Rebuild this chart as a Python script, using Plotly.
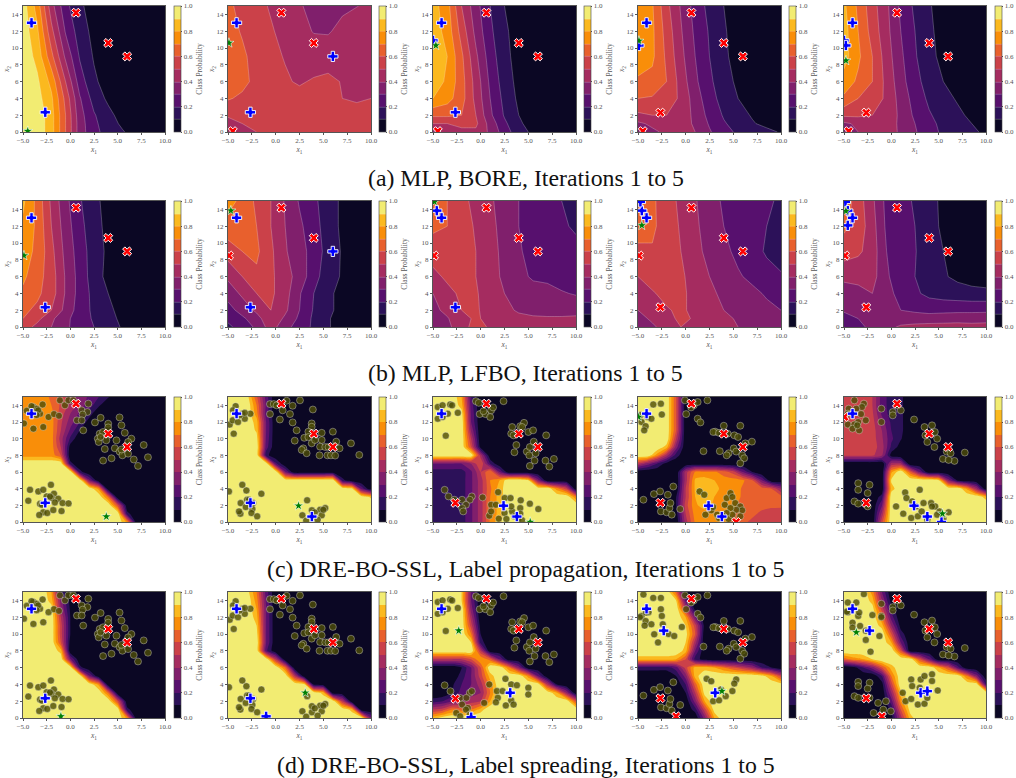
import numpy as np
import plotly.graph_objects as go

# ---------- grids ----------
X_MLP = [-5, -3.5, -2, -0.5, 1, 2.5, 4, 5.5, 7, 8.5, 10]
Y_MLP = [15, 12, 9, 6, 4, 2, 1, 0]
X_SSL = list(range(-5, 11))
Y_SSL = list(range(15, -1, -1))
TICK_X = [-5, -2.5, 0, 2.5, 5, 7.5, 10]
TICK_Y = [0, 2, 4, 6, 8, 10, 12, 14]

# ---------- class probability (percent), rows from y=15 down to y=0 ----------
A1_Z = [[95,76,44,23,12,5,2,2,2,2,2],[96,82,53,29,15,7,3,2,2,2,2],[97,87,63,38,19,9,4,2,2,2,2],[98,92,77,50,25,12,5,2,2,2,2],
        [99,94,82,57,31,16,8,3,2,2,2],[99,97,84,60,34,21,13,6,2,2,2],[99,97,84,60,35,22,15,8,3,2,2],[99,97,84,60,35,23,16,11,5,2,2]]
A2_Z = [[62,57,53,49,45,41,37,36,38,39.7,42],[64,59,55,51,47,43,39.5,39,43,46,48],[65,62,56,52,49.5,47,45,46,48,49.9,47],[66,63,57,53,51,49,51,52,49.5,47,46],
        [61,58,56,55,54,53,53,52,50,49,50],[51,54,55,55,55,55,55,54,53,53,53],[47,50,53,55,55,55,55,54,53,53,53],[43,47,50,54,55,55,55,54,53,53,53]]
A3_Z = [[84,74,50,34,20,10,4,2,2,2,2],[86,76,56,37,22,12,5,2,2,2,2],[88,80,62,42,25,13,6,2,2,2,2],[86,78,64,46,28,15,7,2,2,2,2],
        [80,74,64,47,30,17,8,2,2,2,2],[62,62,60,50,32,19,10,3,2,2,2],[50,50,54,52,36,22,12,5,2,2,2],[38,42,46,48,38,25,14,8,2,2,2]]
A4_Z = [[78,71,53,39,26,17,10,5,2,2,2],[78,72,56,41,28,19,11,6,2,2,2],[77,72,58,43,30,20,12,6,2,2,2],[68,67,60,46,32,22,14,8,3,2,2],
        [60,59,56,48,35,24,16,10,6,3,2],[48,50,50,47,37,27,19,14,9,5,3],[38,42,46,46,38,29,21,16,11,7,4],[32,38,42,44,40,31,24,18,14,13,9]]
A5_Z = [[82,68,54,42,28,18,11,5,2,2,2],[84,70,56,43,30,20,12,6,2,2,2],[84,72,60,45,32,21,13,7,2,2,2],[76,68,60,47,34,23,16,10,5,2,2],
        [68,60,56,48,36,26,18,13,9,6,3],[52,52,50,46,38,28,21,16,12,8,6],[38,42,46,45,38,30,23,17,13,10,7],[34,40,42,43,39,31,24,18,14,11,9]]
B1_Z = [[82,67,48,33,21,13,6,2,2,2,2],[78,68,50,35,23,14,7,2,2,2,2],[74,68,53,37,25,15,8,2,2,2,2],[72,64,55,39,26,15,7,2,2,2,2],
        [68,62,55,39,26,17,10,5,2,2,2],[62,58,50,37,25,18,12,7,2,2,2],[60,53,42,33,24,19,13,8,3,2,2],[55,47,40,32,25,20,15,9,4,2,2]]
B2_Z = [[74,67,58,50,39,29,22,15,8,3,2],[66,67,60,50,40,32,24,15,8,3,2],[55,60,62,52,41,34,26,16,9,3,2],[42,50,58,52,44,36,24,14,9,3,2],
        [34,42,50,52,44,31,20,12,7,2,2],[26,34,42,50,42,30,19,12,7,2,2],[22,28,36,48,38,28,18,11,5,2,2],[18,24,32,45,33,26,18,11,5,2,2]]
B3_Z = [[66,60,52,48,42,34,30,27,24,20,18],[62,60,54,49,43,36,30,26,24,21,19],[55,58,56,50,44,37,31,27,24,22,22],[47,52,55,50,44,38,32,29,28,25,24],
        [40,47,52,51,45,40,34,33,33,31,29],[37,43,50,51,47,42,39,38,37,37,38],[34,39,48,51,48,44,42,41,41,41,41],[32,37,47,53,49,45,43,42,42,42,42]]
B4_Z = [[70,62,54,48,41,33,29,25,22,21,19],[64,62,55,49,42,35,30,26,23,20,18],[58,59,56,50,43,37,32,28,23,19,16],[50,54,55,52,45,40,35,31,28,23,21],
        [46,49,53,52,47,42,38,35,32,29,26],[40,44,49,52,47,43,40,37,34,32,30],[36,42,47,52,49,45,42,39,36,34,33],[30,38,45,50,50,46,43,40,37,35,34]]
B5_Z = [[66,55,42,27,23,19,13,8,3,2,2],[62,56,44,28,24,20,14,8,3,2,2],[55,52,45,30,25,20.5,15,10,6,3,2],[42,42,44,31,26,20,15,11,8,6,4],
        [36,38,40,33,27,22,17,15,14,13,13],[31,35,37,33,30,29,28,28,28,28,28],[27,30,34,35,33,33,33,34,35,35,36],[22,28,32,36,42,44,45,45,45,44,44]]

C1_Z = [[75,75,75,68,55,45,36,28,20,11],[75,75,75,70,58,47,35,25,12],[75,75,75,74,55,40,28,15],[75,75,75,75,52,35,20,5],
        [75,75,75,75,50,28,10],[75,75,75,75,45,18],[75,75,75,75,50,5],[76,76,76,76,60],
        [100]*5+[30],[100]*6+[30],[100]*7+[40],[100]*8+[65,10],[100]*9+[60],[100]*10+[55],[100]*10+[90,30],[100]*11+[65]]
C2_Z = [[100,100,95,62,25],[100,100,100,70,28],[100,100,100,75,25],[100,100,100,85,30],[100,100,100,88,30],[100,100,100,95,28],[100,100,100,100,25],[100,100,100,100,30],
        [100]*5+[35],[100]*6+[40],[100]*7+[80]*5+[30],[100]*13+[75,37],[100]*15+[71],[100]*16,[100]*16,[100]*16]
C3_Z = [[100,100,100,80,20],[100,100,100,85,25],[100,100,100,95,28],[100,100,100,100,30],[100,100,100,100,38],[100,100,100,100,50],[100,100,100,100,60,5],[100,100,100,100,100,45],
        [30,30,30,30,40,60,20],[15,15,15,15,28,50,70,30],[15,15,15,15,28,45,70,80,100,100,90,35],[15,15,15,15,28,45,68,85,100,100,100,100,100,75,55],
        [15,15,15,15,28,45,70,85,100,100,100,100,100,100,100,72],[15,15,15,15,28,45,70,85]+[100]*8,[15,15,15,15,28,45,70,85]+[100]*8,[15,15,15,15,28,45,72,88]+[100]*8]
C4_Z = [[100,100,100,100,60],[100,100,100,100,60],[100,100,100,100,60],[100,100,100,100,60],[100,100,100,100,60],[100,100,100,100,50],[100,100,100,85,35],[100,100,75,45,15],
        [50,35,20,5],[0,0,0,0,0,45,72,72,72,65,55,30,10],[0,0,0,0,0,45,82,85,80,75,75,72,60,30],[0,0,0,0,0,50,82,85,82,78,78,68,66,65,60,40],
        [0,0,0,0,10,50,80,85,80,76,76,68,65,64,64,64],[0,0,0,0,10,55,78,85,78,74,72,66,64,63,62,62],[0,0,0,0,5,50,75,75,75,72,70,65,62,58,56,55],[0,0,0,0,0,45,72,72,72,72,68,62,58,55,55,55]]
C5_Z = [[55,55,55,50,25,15,13],[55,55,55,50,25,15,13],[55,55,55,52,28,15,13],[55,55,55,54,35,18,13],[55,55,55,55,40,20,13],[55,55,55,55,42,22,11],[55,55,55,55,45,18,5],[52,52,52,52,42,5],
        [0,0,0,0,0,45,45],[0,0,0,0,10,70,100,60,35],[0,0,0,0,10,80,100,100,100,90,80,40,20],[0,0,0,0,8,75]+[100]*7+[70,45],
        [0,0,0,0,25,85]+[100]*9+[75],[0,0,0,0,35,95]+[100]*10,[0,0,0,5,45]+[100]*11,[0,0,0,10,55]+[100]*11]

D1_Z = [[100,100,100,80,18],[100,100,100,85,35,5],[100,100,100,95,40,8],[100,100,100,100,50,10],[100,100,100,100,55,10],[100,100,100,100,55,10],[100,100,100,100,60,5],[100,100,100,100,85],
        [100]*5+[40],[100]*6+[30],[100]*7+[40],[100]*8+[65,10],[100]*9+[60],[100]*10+[55],[100]*10+[90,30],[100]*11+[65]]
D2_Z = [[100,100,95,70,25],[100,100,100,75,28],[100,100,100,80,30],[100,100,100,85,30],[100,100,100,90,30],[100,100,100,95,30],[100,100,100,100,30],[100,100,100,100,35],
        [100]*5+[50],[100]*6+[60],[100]*7+[50],[100]*8+[75,25],[100]*10+[70,15],[100]*12+[50],[100]*13+[70,15],[100]*14+[90,40]]
D3_Z = [[100,100,100,90,30],[100,100,100,90,30],[100,100,100,100,35],[100,100,100,100,45],[100,100,100,100,55,5],[100,100,100,100,70,10],[100,100,100,100,90,15],[100,100,100,100,100,50],
        [50,50,50,50,60,80,65,30],[0,0,0,10,30,60,100,100,70,35],[0,0,0,15,30,55,85]+[100]*3+[75,30],[0,0,8,20,30,45,75]+[100]*5+[50,10],
        [0,0,10,25,35,40,70]+[100]*6+[80,40],[15,20,30,35,45,50,80]+[100]*8+[60],[50,55,70,65,70,85]+[100]*10,[85,95]+[100]*14]
D4_Z = [[100,100,100,100,65,5],[100,100,100,100,90,25],[100,100,100,100,100,50,5],[100,100,100,100,100,80,30],[100,100,100,100,100,90,55,5],[100,100,100,100,100,95,60],[100,100,100,100,100,90,45],[100,100,100,100,100,85,30],
        [85,85,85,85,80,60,15,5],[15,15,15,15,25,55,85,85,80,70,60,50,40,20,10],[0,0,0,0,10,35,85]+[100]*6+[95,80,55],[0,0,0,0,0,20,65]+[100]*8+[95],
        [0,0,0,0,0,10,50,95]+[100]*8,[0,0,0,0,0,0,35,80]+[100]*8,[0,0,0,0,0,0,15,55,95]+[100]*7,[0,0,0,0,0,0,0,35,80]+[100]*7]
D5_Z = [[100,100,100,75,30],[100,100,100,85,40,5],[100,100,100,95,55,15],[100,100,100,100,70,25],[100,100,100,100,85,40,5],[100,100,100,100,100,60,15],[100,100,100,100,100,80,30],[100,100,100,100,100,100,60],
        [65,75,80,90,100,100,100,100,60,30],[0,5,20,35,60,85,100,100,100,100,80,60,25],[0,0,0,0,20,70]+[100]*7+[70,35],[0,0,0,0,5,55]+[100]*9+[20],
        [0,0,0,0,0,40,85]+[100]*9,[0,0,0,0,0,25,75]+[100]*9,[0,0,0,0,0,12,60,95]+[100]*8,[0,0,0,0,0,5,45,85]+[100]*8]

# ---------- evaluated points ----------
X_BASE = [(0.6, 14.2), (4, 10.6), (6, 9)]
A1_PLUS = [(-4.1,13),(-2.65,2.35)]; A1_X = X_BASE; A1_STAR = (-4.5,0.1)
A2_PLUS = [(-4.1,13),(-2.65,2.35),(6,9)]; A2_X = [(0.6,14.2),(4,10.6),(-4.5,0.1)]; A2_STAR = (-4.9,10.6)
A3_PLUS = [(-4.1,13),(-2.65,2.35),(-5,10.9)]; A3_X = X_BASE+[(-4.5,0.1)]; A3_STAR = (-4.7,10.3)
A4_PLUS = [(-4.1,13),(-4.9,10.3)]; A4_X = X_BASE+[(-2.65,2.3),(-4.5,0.1)]; A4_STAR = (-4.9,10.85)
A5_PLUS = [(-4.1,13),(-5,10.9),(-4.8,10.3)]; A5_X = A4_X; A5_STAR = (-4.8,8.5)
B1_PLUS = [(-4.1,13),(-2.65,2.35)]; B1_X = X_BASE; B1_STAR = (-4.9,8.5)
B2_PLUS = [(-4.1,13),(-2.65,2.35),(6,9)]; B2_X = [(0.6,14.2),(4,10.6),(-4.9,8.5)]; B2_STAR = (-4.7,13.85)
B3_PLUS = [(-4.1,13),(-2.65,2.35),(-4.6,13.85)]; B3_X = X_BASE+[(-4.9,8.5)]; B3_STAR = (-4.85,14.9)
B4_PLUS = [(-4.1,13),(-4.6,13.85),(-4.75,14.9)]; B4_X = X_BASE+[(-2.65,2.35),(-4.9,8.5)]; B4_STAR = (-4.6,12.1)
B5_PLUS = [(-4.1,13),(-4.6,12.1),(-4.85,14.9),(-4.6,13.85)]; B5_X = B4_X; B5_STAR = (-4.8,13.8)
C1_PLUS = [(-4.1,13),(-2.65,2.3)]; C1_X = X_BASE; C1_STAR = (3.8,0.65)
C2_PLUS = [(-4.1,13),(-2.65,2.3),(3.8,0.65)]; C2_X = X_BASE; C2_STAR = (2.4,1.95)
C3_PLUS = [(-4.1,13),(2.4,1.95),(3.8,0.65)]; C3_X = X_BASE+[(-2.65,2.3)]; C3_STAR = (5.2,0)
C4_PLUS = [(-4.1,13),(2.4,1.95),(3.8,0.65)]; C4_X = X_BASE+[(-2.65,2.3),(5.3,0)]; C4_STAR = (-4.95,12.6)
C5_PLUS = [(-4.1,13),(2.4,1.95),(3.8,0.65),(5.3,0)]; C5_X = X_BASE+[(-2.65,2.3),(-4.95,12.6)]; C5_STAR = (5.4,1)
D1_PLUS = [(-4.1,13),(-2.65,2.35)]; D1_X = X_BASE; D1_STAR = (-1,0.2)
D2_PLUS = [(-4.1,13),(-2.65,2.35),(-1,0.2)]; D2_X = X_BASE; D2_STAR = (3.1,3)
D3_PLUS = [(-4.1,13),(-1,0.1),(3.1,3)]; D3_X = X_BASE+[(-2.65,2.3)]; D3_STAR = (-2.3,10.4)
D4_PLUS = [(-4.1,13),(-2.3,10.4),(3.1,3)]; D4_X = X_BASE+[(-2.65,2.35),(-1,0.2)]; D4_STAR = (3.8,3.2)
D5_PLUS = [(-4.1,13),(-2.3,10.4),(3.1,3),(3.8,3.2)]; D5_X = D4_X; D5_STAR = (-3.7,10.2)

# ---------- candidate (unlabelled) points ----------
C1_DOTS = [(-4.26,3.86),(-4.44,2.55),(-3.38,3.67),(-2.86,3.86),(-2.05,4.46),(-1.73,3.39),(-1.98,2.87),(-1.28,2.79),(-0.82,2.27),(-0.19,2.23),(-1.63,2.35),(-3.2,2.19),(-2.86,1.16),(-2.44,1.08),(-3.28,0.84),(-1.8,1.43),(-0.93,1.31),(-2.5,3.07),(-2.15,3.05),(-3,2.07),
           (-4.9,11.83),(-4.6,13.35),(-3.9,13.8),(-3.56,13.6),(-2.93,14.1),(-3.2,13),(-3.4,13.4),(-3.9,11.2),(-2.86,11.4),(-2.3,12.6),(-1.73,12.95),(-1.2,12.75),(-3.56,12.83),(-4.1,13.9),
           (-1.1,14.6),(-0.57,14),(-0.2,14.6),(0.3,14.6),(1.9,14.2),(1.2,13.4),(1.8,13.2),(1.3,12.9),(0.7,12.2),(1.2,12.2),(1.36,11),(2.6,11.95),(3.2,12.5),
           (5.2,12.55),(5.4,11.6),(4,11.8),(4,11.35),(5.75,10.7),(3.1,10.6),(3.46,10.8),(2.9,10),(3,9.6),(3.2,10.2),(3.8,9.8),(4.87,9.8),(6.45,10),(6.1,9.6),(7.75,9.24),(4.7,8.85),(3.64,8.76),(5.2,8.45),(5.5,8),(6.1,8.2),(4.35,7.65),(3.46,7.37),(6.7,7.5),(7.15,6.73),(8.2,7.77),(5.4,8.7)]
C2_DOTS = [(-4.9,3.67),(-3.5,4.46),(-3.07,3.78),(-1.5,3.39),(-3.67,2.27),(-3.7,1),(-3,2.67),(-2.37,2.27),(-3.14,1.8),(-2.44,1.55),(-2.54,1.08),(-1.94,0.68),(-2.8,2.67),(-3.84,1.27),
           (-4.82,11.7),(-4.4,10.6),(-4.2,13.9),(-4.47,13.4),(-3.5,13),(-3.24,12.4),(-4.5,12.2),(-3.95,12),(-2.65,13),(-3.77,12.8),(-3.24,13.1),
           (3.3,2.6),(2.8,0.8),(3.8,0.68),(3.8,1.4),(4.66,1.47),(5.2,1.67),(4.83,0.8),(4.4,0.28),(3.2,0.16),(4.1,1.15),(5,1.47),
           (-0.6,14.15),(-0.2,14.15),(0.1,14),(-0.6,12.95),(0.44,12.3),(0.73,13.4),(1.15,14.55),(2.55,14.6),(1.78,13.95),(1.5,12.95),(1.78,11.95),(2.2,11),(3.9,13.5),(2,9.76),
           (3.78,11.83),(3.78,11.43),(3.43,10.84),(3,10.1),(3.43,10.2),(2.9,8.84),(2.73,8.65),(3.25,8.25),(3.78,9.44),(4.13,9.84),(4.83,10.7),(4.83,9.84),(4.66,9.04),(5.2,9),(5.54,9),(4.6,8),(5.43,8),(5.8,8),(6.24,7.97),(6,10.84),(6.35,9.64),(6.7,8.84),(7.9,9.44),(8.77,8.05)]
C3_UPPER = [(-4.5,13.8),(-4.5,12.4),(-4,14),(-3.2,14.1),(-3,14),(-2.4,13.1),(-3.45,13),(-3.66,10.36),(-4,12.6),
            (-0.5,14.5),(-0.2,14.3),(-0.1,12.95),(0.5,12.95),(1,12.6),(0.3,13.3),(1.1,13.4),(1.3,13.75),(2.4,14.5),
            (3.3,11.4),(4.15,11.5),(4.55,11.9),(3.2,10.6),(3.45,10.4),(4.35,11.4),(5,10.8),(5.5,11),(3.74,9.24),(3.54,8.37),(4.84,8.45),(5.16,9),(5.1,8),(5.77,8.25),(6.87,10.4),(5.57,9.64),(6.8,7.37),(7.68,7.57),(7.2,6.65),(5.65,7.37),(5.16,6.73)]
C3_LOWER = [(-3.78,3.86),(-3.37,3.07),(-2.76,2.67),(-1.95,2.67),(-0.93,3.07),(-1.14,2.67),(-1.54,2.07),(-1.95,1.67),(-1.83,1.27),(0.2,2.95),
            (1.83,3.58),(2.52,2.87),(3.13,2.87),(4.2,2.6),(1.1,2.07),(1.6,2.07),(0.9,0.76),(1.1,1.27),(1.9,0.4),(2.5,1.08),(2.7,0.36),(3.3,1.27),(3.54,0.68),(4.15,1.67),(5.16,2.2),(6.05,1.55),(4.15,1),(3.94,0.36),(4.35,0.2),(3.2,1.87)]
C4_UL = [(-3.4,14.1),(-2.6,14.2),(-2.5,12.9),(-4.63,12),(-4,12.6),(-3.6,12.4),(-4.2,11.5),(-4.35,11),(-4.75,12.83)]
C4_TOPRIGHT = [(0.05,12.95),(0.85,14),(1.26,14.4),(2.28,14.6),(-0.08,14.6),(0.57,13.75),(1.26,12.4),(1.55,11.95),
               (3.1,10.84),(4,11.55),(2.9,10.8),(4.4,10.6),(5.73,11.55),(5.1,10.4),(5.5,10.2),(6.95,9.64),(6.26,9.44),(1.87,8.5),(3.58,8.5),(4.5,8.25),(5.04,8.84),(5.3,8.45),(4.3,8),(5.93,8),(6.14,7.65),(5.73,7.05),(3.5,10.7)]
C4_LL = [(-4.43,2.67),(-3.33,3.35),(-2.68,3.67),(-1.87,3.27),(-1.3,4.26),(-0.57,1.55),(-2.6,1.27),(-2,1.16),(-1.46,0.88),(-1.7,1.67),(-1.6,2.27)]
C4_LR = [(1.46,3.67),(1.95,3.27),(2.36,1.87),(2.07,0.88),(2.68,1.4),(3.3,0.88),(3.5,0.48),(4.1,2.07),(4.3,2.87),(4.7,3.47),(4.9,3),(5.2,2.27),(5.73,1.87),(5.93,1.4),(5.3,1.47),(4.7,1.67),(5.73,0.68),(4.5,0.36),(2.88,1.8),(4.9,0.88),(4.3,1.08),(3.9,0.76)]
C5_UL = [(-4.5,13.6),(-3.9,14.6),(-2.9,14.2),(-3.1,13.8),(-4.6,13),(-3.7,13.6),(-2.7,12.2),(-3.5,12),(-4.6,11.7),(-3.9,11.7),(-4.1,11.2),(-3.4,11),(-3.6,11.6),(-3.2,12.95)]
C5_TOPRIGHT = [(-1.05,13.6),(-1.05,12),(0.15,13.2),(0.6,14),(1,13.4),(0.15,12.8),(2.4,12.3),
               (3.5,11.4),(4.3,11.6),(3.6,10.4),(3.8,9.6),(4.6,10.8),(4.84,10),(4.55,9),(5.85,8.45),(6.26,8.25),(5.45,7.57),(6.67,7.33),(7.76,8.33),(6.05,7.45)]
C5_LL = [(-3.5,4.66),(-2.3,4.46),(-3.5,3.86),(-2.5,3.47),(-3.9,2.47),(-3.5,2.2),(-2.5,1.87)]
C5_LR = [(1.46,3.55),(3,3.86),(1.6,2.87),(2.2,2.47),(0.5,1.87),(1.26,1),(2.1,0.48),(2.8,0.68),(2.6,1.87),(3.4,2.27),(4.2,2.27),(4.63,1.87),(5.1,1.27),(6.05,1.16),(4.84,0.88),(3.8,0.28),(4.3,1.87),(3.2,1.27),(5.5,0.36)]
D3_LOWER = [(-3.78,3.9),(-3.17,3.19),(-2.15,2.39),(-1.14,3),(-0.93,3.19),(-1.5,2.4),(-1.95,1.6),(-1.35,1.2),(-2.56,0.6),(-2.15,0.2),(-1.54,1),(-1.14,0.4),(0.37,1.8),
            (0.9,4),(1.7,3.2),(2.3,3.2),(1.8,2.4),(1.6,1.87),(2.6,4.66),(3.2,4),(3.8,3.9),(5,3.6),(5,2.8),(3.2,2.1),(3.45,1.6),(2.64,1.5)]
D4_UL = [(-4.43,14.7),(-3.4,14.3),(-2.6,14.3),(-4.63,12.15),(-3.9,12.6),(-2.6,12.95),(-2.5,12.15),(-4.2,11.55),(-3.6,11.15),(-4.3,11),(-3.3,9.96),(-2.4,11.15),(-1.8,10),(-1.2,9.76),(-2.9,9),(-0.4,10.84),(-4.15,12.55),(-4.8,12)]
D4_LR = [(2.2,4.66),(2.68,4.38),(5.3,4.58),(5.1,4.1),(4.9,3.2),(2.88,2),(3.5,2.1),(4.2,2.6),(3.7,3.4)]
D5_UL = [(-4.6,13.75),(-3.7,13.75),(-2.9,14.75),(-4.6,12.6),(-3.5,12.15),(-2,12.25),(-1.05,12.15),(-4.1,11.35),(-3.3,10.96),(-2.7,10.4),(-2.7,9.3),(-1.26,9.76),(-2.2,7.9),(-4.1,10.76),(-3.4,12.55),(-4.7,12.67)]
D5_LL = [(-3.5,4.3),(-2.3,4.2),(-3.5,3.8),(-2.5,3.5),(-1.4,1.8),(-0.57,2),(-1.87,0.6),(-0.05,0.8),(-0.85,1),(-2.3,2.4),(-3.9,2.6),(-3.5,2.4)]
D5_LR = [(1.2,3),(2.1,4.58),(3.1,4.58),(4.3,5.2),(3.5,5),(4.3,4.4),(4.9,3.27),(1.5,2),(2.1,2.27),(2.8,1.6),(3.5,1.7),(3.8,2.4),(2.2,3.8),(3,3.6)]

CAPTIONS = ["(a) MLP, BORE, Iterations 1 to 5", "(b) MLP, LFBO, Iterations 1 to 5",
            "(c) DRE-BO-SSL, Label propagation, Iterations 1 to 5", "(d) DRE-BO-SSL, Label spreading, Iterations 1 to 5"]
CBAR_TITLE = "Class Probability"
CBAR_TICKS = [0.0, 0.2, 0.4, 0.6, 0.8, 1.0]

# ---------- layout and style ----------
W, H = 1016, 778
PANEL_X = [(23, 165), (228, 371), (433, 576), (638, 781), (844, 986)]
CBAR_X = [174, 379, 584, 789, 995]
PANEL_Y = [(6, 132), (201, 327), (397, 522), (592, 718)]
CAPTION_Y = [178, 373, 569, 765]
BAND_COLORS = ["#0b0724", "#2c1159", "#57106e", "#801f6c", "#a52c60", "#cb4149", "#e8602d", "#f98e09", "#fbb91f", "#f2ec72"]
TEXT_COL = "#555555"
FONT = "Liberation Serif"

stepped = []
for i, c in enumerate(BAND_COLORS):
    stepped += [[i / 10, c], [(i + 1) / 10, c]]

DOTS_C3 = C3_UPPER + C3_LOWER
DOTS_D3 = C3_UPPER + D3_LOWER
DOTS_D4 = D4_UL + C4_TOPRIGHT + C4_LL + D4_LR
DOTS_C4 = C4_UL + C4_TOPRIGHT + C4_LL + C4_LR
DOTS_C5 = C5_UL + C5_TOPRIGHT + C5_LL + C5_LR
DOTS_D5 = D5_UL + C5_TOPRIGHT + D5_LL + D5_LR

ROWS = [
    [(A1_Z, A1_PLUS, A1_X, A1_STAR, None), (A2_Z, A2_PLUS, A2_X, A2_STAR, None), (A3_Z, A3_PLUS, A3_X, A3_STAR, None), (A4_Z, A4_PLUS, A4_X, A4_STAR, None), (A5_Z, A5_PLUS, A5_X, A5_STAR, None)],
    [(B1_Z, B1_PLUS, B1_X, B1_STAR, None), (B2_Z, B2_PLUS, B2_X, B2_STAR, None), (B3_Z, B3_PLUS, B3_X, B3_STAR, None), (B4_Z, B4_PLUS, B4_X, B4_STAR, None), (B5_Z, B5_PLUS, B5_X, B5_STAR, None)],
    [(C1_Z, C1_PLUS, C1_X, C1_STAR, C1_DOTS), (C2_Z, C2_PLUS, C2_X, C2_STAR, C2_DOTS), (C3_Z, C3_PLUS, C3_X, C3_STAR, DOTS_C3), (C4_Z, C4_PLUS, C4_X, C4_STAR, DOTS_C4), (C5_Z, C5_PLUS, C5_X, C5_STAR, DOTS_C5)],
    [(D1_Z, D1_PLUS, D1_X, D1_STAR, C1_DOTS), (D2_Z, D2_PLUS, D2_X, D2_STAR, C2_DOTS), (D3_Z, D3_PLUS, D3_X, D3_STAR, DOTS_D3), (D4_Z, D4_PLUS, D4_X, D4_STAR, DOTS_D4), (D5_Z, D5_PLUS, D5_X, D5_STAR, DOTS_D5)],
]
# panels whose decision edge is narrower than one grid cell: (row, col) -> (rows with y <= limit, gain)
EDGE_GAIN = {(2, 0): (7, 1.8), (2, 1): (8, 1.8), (2, 4): (7, 1.4), (3, 0): (7, 1.8), (3, 1): (8, 1.8)}


def to_grid(rows, xs, ys, edge=None):
    pad = [list(r) + [0] * (len(xs) - len(r)) for r in rows]
    z = np.array(pad, dtype=float) / 100
    if edge:
        limit, gain = edge
        for j, yv in enumerate(ys):
            if yv <= limit:
                z[j] = 0.5 + (z[j] - 0.5) * gain
    return xs, ys[::-1], np.clip(z[::-1], 0.004, 0.996)


fig = go.Figure()
layout = {}
n = 0
for r, row in enumerate(ROWS):
    top, bot = PANEL_Y[r]
    for c, (zrows, plus, cross, star, dots) in enumerate(row):
        n += 1
        xa, ya = f"x{n}", f"y{n}"
        left, right = PANEL_X[c]
        is_mlp = dots is None
        xs, ys, z = to_grid(zrows, X_MLP if is_mlp else X_SSL, Y_MLP if is_mlp else Y_SSL, EDGE_GAIN.get((r, c)))
        fig.add_trace(go.Contour(
            x=xs, y=ys, z=z, xaxis=xa, yaxis=ya, zmin=0, zmax=1, autocontour=False,
            contours=dict(start=0, end=1, size=0.1, coloring="fill"),
            line=dict(width=0.6 if is_mlp else 0, color="rgba(255,255,255,0.4)", smoothing=0 if is_mlp else 0.5),
            colorscale=stepped, hoverinfo="skip",
            colorbar=dict(
                x=CBAR_X[c] / W, xanchor="left", y=1 - bot / H, yanchor="bottom",
                len=(bot - top) / H, lenmode="fraction", thickness=7, thicknessmode="pixels",
                xpad=0, ypad=0, outlinewidth=0.6, outlinecolor="#444444",
                tickmode="array", tickvals=CBAR_TICKS, ticktext=[f"{v:.1f}" for v in CBAR_TICKS],
                ticks="outside", ticklen=1.5, tickwidth=0.5, tickcolor=TEXT_COL,
                tickfont=dict(family=FONT, size=7, color=TEXT_COL),
                title=dict(text=CBAR_TITLE, side="right", font=dict(family=FONT, size=7.5, color=TEXT_COL)),
            ),
        ))
        if dots:
            fig.add_trace(go.Scatter(
                x=[p[0] for p in dots], y=[p[1] for p in dots], mode="markers", xaxis=xa, yaxis=ya,
                marker=dict(size=7, color="rgba(78,78,8,0.8)", line=dict(width=0.6, color="rgba(255,255,255,0.55)")),
                hoverinfo="skip", showlegend=False))
        fig.add_trace(go.Scatter(
            x=[p[0] for p in cross], y=[p[1] for p in cross], mode="markers", xaxis=xa, yaxis=ya,
            marker=dict(symbol="x", size=8, color="#ff0000", line=dict(width=1, color="white")),
            hoverinfo="skip", showlegend=False))
        fig.add_trace(go.Scatter(
            x=[p[0] for p in plus], y=[p[1] for p in plus], mode="markers", xaxis=xa, yaxis=ya,
            marker=dict(symbol="cross", size=8.5, color="#0000ff", line=dict(width=0.9, color="white")),
            hoverinfo="skip", showlegend=False))
        fig.add_trace(go.Scatter(
            x=[star[0]], y=[star[1]], mode="markers", xaxis=xa, yaxis=ya,
            marker=dict(symbol="star", size=7.5, color="#008000", line=dict(width=0.6, color="white")),
            hoverinfo="skip", showlegend=False))
        axis_common = dict(
            showgrid=False, zeroline=False, showline=True, mirror=True, linecolor="#555555", linewidth=1,
            ticks="outside", ticklen=2, tickwidth=0.5, tickcolor=TEXT_COL,
            tickfont=dict(family=FONT, size=7, color=TEXT_COL),
        )
        layout[f"xaxis{n}"] = dict(
            domain=[left / W, right / W], anchor=ya, range=[-5, 10], tickmode="array", tickvals=TICK_X,
            ticktext=[f"{v:.1f}".replace("-", "\u2212") for v in TICK_X],
            title=dict(text="<i>x</i><sub>1</sub>", standoff=0, font=dict(family=FONT, size=7.5, color=TEXT_COL)), **axis_common)
        layout[f"yaxis{n}"] = dict(
            domain=[1 - bot / H, 1 - top / H], anchor=xa, range=[0, 15], tickmode="array", tickvals=TICK_Y,
            ticktext=[str(v) for v in TICK_Y],
            title=dict(text="<i>x</i><sub>2</sub>", standoff=0, font=dict(family=FONT, size=7.5, color=TEXT_COL)), **axis_common)

annotations = [
    dict(text=t, x=525.5 / W, y=1 - yc / H, xref="paper", yref="paper", xanchor="center", yanchor="middle",
         showarrow=False, font=dict(family=FONT, size=23.8, color="#111111"))
    for t, yc in zip(CAPTIONS, CAPTION_Y)
]
fig.update_layout(width=W, height=H, margin=dict(l=0, r=0, t=0, b=0, autoexpand=False), autosize=False,
                  paper_bgcolor="white", plot_bgcolor="white", showlegend=False,
                  annotations=annotations, **layout)
fig.write_html("out.html", config={"displayModeBar": False}, post_script="document.body.style.margin='0';")
